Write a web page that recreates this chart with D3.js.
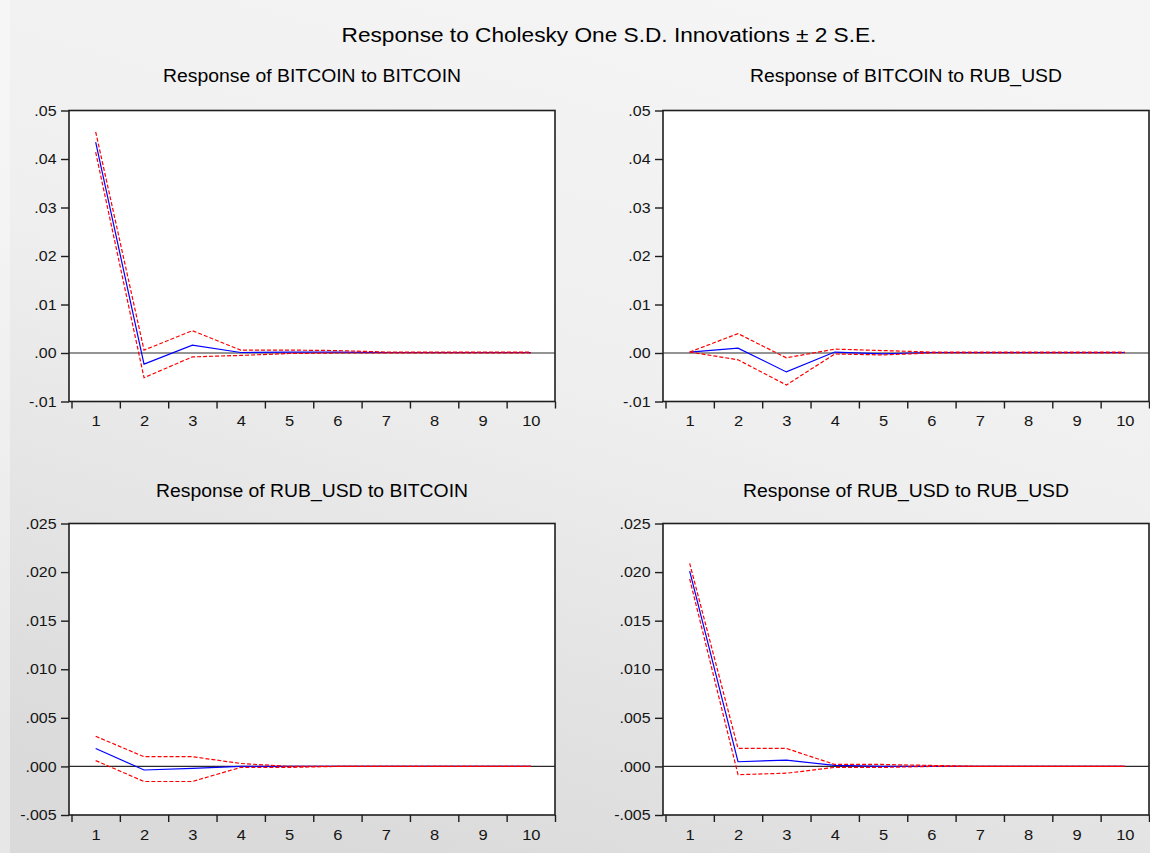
<!DOCTYPE html>
<html>
<head>
<meta charset="utf-8">
<script src="https://cdn.jsdelivr.net/npm/d3@7/dist/d3.min.js"></script>
<style>
  html, body { margin: 0; padding: 0; background: #eeeeee; }
  svg { display: block; }
  text { font-family: "Liberation Sans", Arial, sans-serif; fill: #151515; }
</style>
</head>
<body>
<svg id="chart" width="1150" height="853"></svg>
<script>
// ---------------- DATA ----------------
const periods = [1, 2, 3, 4, 5, 6, 7, 8, 9, 10];

const mainTitle = "Response to Cholesky One S.D. Innovations \u00b1 2 S.E.";
const panelTitles = [
  "Response of BITCOIN to BITCOIN",
  "Response of BITCOIN to RUB_USD",
  "Response of RUB_USD to BITCOIN",
  "Response of RUB_USD to RUB_USD"
];

// Response of BITCOIN to BITCOIN
const bbResp  = [0.0435, -0.0023, 0.0016, 0.0001, 0.0002, 0.0002, 0.0001, 0.0001, 0.0001, 0.0001];
const bbUpper = [0.0456, 0.0006, 0.0046, 0.0006, 0.0006, 0.0005, 0.0002, 0.0002, 0.0002, 0.0002];
const bbLower = [0.0414, -0.0051, -0.0008, -0.0005, -0.0001, 0.0000, 0.0000, 0.0000, 0.0000, 0.0000];

// Response of BITCOIN to RUB_USD
const brResp  = [0.0002, 0.0010, -0.0039, 0.0002, -0.0002, 0.0001, 0.0001, 0.0001, 0.0001, 0.0001];
const brUpper = [0.0002, 0.0040, -0.0010, 0.0008, 0.0005, 0.0002, 0.0002, 0.0002, 0.0002, 0.0002];
const brLower = [0.0002, -0.0014, -0.0066, -0.0002, -0.0004, 0.0000, 0.0000, 0.0000, 0.0000, 0.0000];

// Response of RUB_USD to BITCOIN
const rbResp  = [0.00185, -0.00037, -0.00020, 0.00000, 0.00000, 0.00000, 0.00000, 0.00000, 0.00000, 0.00000];
const rbUpper = [0.00310, 0.00100, 0.00100, 0.00030, 0.00000, 0.00000, 0.00000, 0.00000, 0.00000, 0.00000];
const rbLower = [0.00060, -0.00155, -0.00155, -0.00010, -0.00010, 0.00000, 0.00000, 0.00000, 0.00000, 0.00000];

// Response of RUB_USD to RUB_USD
const rrResp  = [0.02010, 0.00048, 0.00065, 0.00010, 0.00000, 0.00000, 0.00000, 0.00000, 0.00000, 0.00000];
const rrUpper = [0.02090, 0.00185, 0.00185, 0.00020, 0.00020, 0.00010, 0.00000, 0.00000, 0.00000, 0.00000];
const rrLower = [0.01930, -0.00085, -0.00070, -0.00010, -0.00010, 0.00000, 0.00000, 0.00000, 0.00000, 0.00000];

// Tick values and labels
const topYTicks = [-0.01, 0.00, 0.01, 0.02, 0.03, 0.04, 0.05];
const topYLabels = ["-.01", ".00", ".01", ".02", ".03", ".04", ".05"];
const botYTicks = [-0.005, 0.000, 0.005, 0.010, 0.015, 0.020, 0.025];
const botYLabels = ["-.005", ".000", ".005", ".010", ".015", ".020", ".025"];
const xLabels = ["1", "2", "3", "4", "5", "6", "7", "8", "9", "10"];

// ---------------- LAYOUT ----------------
const W = 1150, H = 853;
const SX = 1.1; // horizontal text stretch, as in the reference
const colBox = [[69, 555], [663, 1149]];     // plot box edges
const colAxis = [[71.5, 555], [665.5, 1149]]; // period band range
const rowY = [[110.5, 401.5], [523.5, 815]];

const panels = [
  { title: panelTitles[0], resp: bbResp, upper: bbUpper, lower: bbLower, col: 0, row: 0, domain: [-0.01, 0.05], ticks: topYTicks, labels: topYLabels, titleY: 82 },
  { title: panelTitles[1], resp: brResp, upper: brUpper, lower: brLower, col: 1, row: 0, domain: [-0.01, 0.05], ticks: topYTicks, labels: topYLabels, titleY: 82 },
  { title: panelTitles[2], resp: rbResp, upper: rbUpper, lower: rbLower, col: 0, row: 1, domain: [-0.005, 0.025], ticks: botYTicks, labels: botYLabels, titleY: 497 },
  { title: panelTitles[3], resp: rrResp, upper: rrUpper, lower: rrLower, col: 1, row: 1, domain: [-0.005, 0.025], ticks: botYTicks, labels: botYLabels, titleY: 497 }
];

const svg = d3.select("#chart");

// background gradient
const defs = svg.append("defs");
const grad = defs.append("linearGradient").attr("id", "bg")
  .attr("x1", "0.7").attr("y1", "0").attr("x2", "0.3").attr("y2", "1");
grad.append("stop").attr("offset", "0").attr("stop-color", "#f5f5f5");
grad.append("stop").attr("offset", "0.45").attr("stop-color", "#efefef");
grad.append("stop").attr("offset", "1").attr("stop-color", "#dadada");
svg.append("rect").attr("width", W).attr("height", H).attr("fill", "url(#bg)");
svg.append("rect").attr("x", 0).attr("y", 0).attr("width", 10).attr("height", H)
  .attr("fill", "#ffffff").attr("opacity", 0.35);

function stretchedText(parent, x, y, str, size, anchor) {
  return parent.append("text")
    .attr("transform", `translate(${x},${y}) scale(${SX},1)`)
    .attr("text-anchor", anchor || "middle")
    .attr("font-size", size)
    .text(str);
}

// main title
stretchedText(svg, 609, 42, mainTitle, 20.6, "middle").style("fill", "#000");

panels.forEach(p => {
  const [x0, x1] = colBox[p.col];
  const [y0, y1] = rowY[p.row];
  const x = d3.scaleLinear().domain([0.5, 10.5]).range(colAxis[p.col]);
  const y = d3.scaleLinear().domain(p.domain).range([y1, y0]);
  const g = svg.append("g");

  // subtitle
  stretchedText(g, (x0 + x1) / 2, p.titleY, p.title, 17.6, "middle").style("fill", "#000");

  // plot box
  g.append("rect").attr("x", x0).attr("y", y0).attr("width", x1 - x0).attr("height", y1 - y0)
    .attr("fill", "#ffffff").attr("stroke", "#1e1e1e").attr("stroke-width", 1.6);

  // y axis
  const yAxis = d3.axisLeft(y).tickValues(p.ticks)
    .tickFormat((d, i) => p.labels[i]).tickSize(8).tickPadding(4);
  const ya = g.append("g").attr("transform", `translate(${x0},0)`).call(yAxis);
  ya.select(".domain").remove();
  ya.selectAll(".tick line").attr("stroke", "#1e1e1e").attr("stroke-width", 1.4);
  ya.selectAll(".tick text")
    .attr("x", -12.5 / SX)
    .attr("transform", `scale(${SX},1)`)
    .attr("font-size", 14.5)
    .attr("font-family", '"Liberation Sans", Arial, sans-serif')
    .style("fill", "#151515");

  // x axis tick marks at period boundaries
  const xMarks = d3.axisBottom(x).tickValues(d3.range(0.5, 11, 1)).tickFormat("").tickSize(7);
  const xm = g.append("g").attr("transform", `translate(0,${y1})`).call(xMarks);
  xm.select(".domain").remove();
  xm.selectAll(".tick line").attr("stroke", "#1e1e1e").attr("stroke-width", 1.4);

  // x labels at period centres
  const xLab = d3.axisBottom(x).tickValues(periods).tickFormat((d, i) => xLabels[i]).tickSize(0).tickPadding(14);
  const xl = g.append("g").attr("transform", `translate(0,${y1})`).call(xLab);
  xl.select(".domain").remove();
  xl.selectAll(".tick text")
    .attr("transform", `scale(${SX},1)`)
    .attr("x", 0)
    .attr("font-size", 15)
    .attr("font-family", '"Liberation Sans", Arial, sans-serif')
    .style("fill", "#151515");

  // zero line
  g.append("line").attr("x1", x0).attr("x2", x1).attr("y1", y(0)).attr("y2", y(0))
    .attr("stroke", "#2a2a2a").attr("stroke-width", 1.2);

  const line = d3.line().x((d, i) => x(periods[i])).y(d => y(d));

  g.append("path").attr("d", line(p.resp)).attr("fill", "none")
    .attr("stroke", "#0000ff").attr("stroke-width", 1.2);
  [p.upper, p.lower].forEach(band => {
    g.append("path").attr("d", line(band)).attr("fill", "none")
      .attr("stroke", "#ff0000").attr("stroke-width", 1.2)
      .attr("stroke-dasharray", "4,2");
  });
});
</script>
</body>
</html>
